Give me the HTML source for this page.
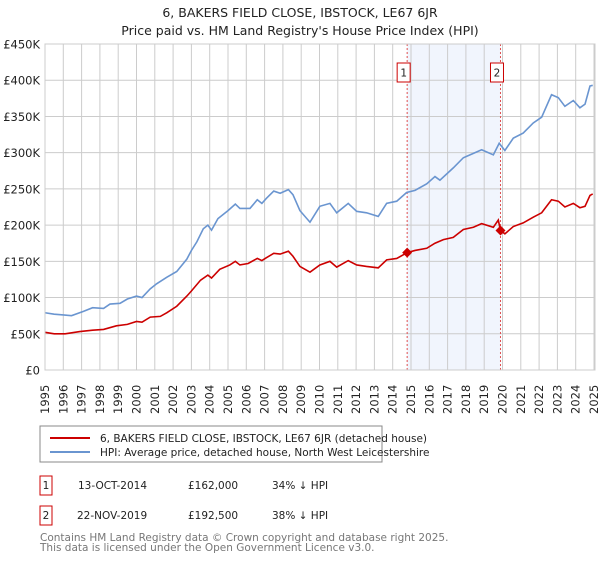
<!DOCTYPE html>
<html><head><meta charset="utf-8"><style>
body{margin:0;background:#fff;font-family:"DejaVu Sans","Liberation Sans",sans-serif;}
svg text{font-family:"DejaVu Sans","Liberation Sans",sans-serif;}
</style></head><body>
<svg id="c" width="600" height="560" xmlns="http://www.w3.org/2000/svg">
<text x="300" y="17" text-anchor="middle" font-size="12.5" fill="#222">6, BAKERS FIELD CLOSE, IBSTOCK, LE67 6JR</text>
<text x="300" y="35" text-anchor="middle" font-size="12.5" fill="#222">Price paid vs. HM Land Registry's House Price Index (HPI)</text>
<g id="grid"></g><g id="series"></g><g id="axes"></g>
<rect x="40" y="426" width="342" height="36" fill="#fff" stroke="#888"/>
<line x1="50" y1="438" x2="90" y2="438" stroke="#cc0000" stroke-width="2"/>
<text x="100" y="442" font-size="10.5" fill="#222">6, BAKERS FIELD CLOSE, IBSTOCK, LE67 6JR (detached house)</text>
<line x1="50" y1="452" x2="90" y2="452" stroke="#6a95d0" stroke-width="2"/>
<text x="100" y="456" font-size="10.5" fill="#222">HPI: Average price, detached house, North West Leicestershire</text>
<g font-size="10.5" fill="#222">
<rect x="40" y="476" width="12" height="19" fill="#fff" stroke="#cc0000"/>
<text x="46" y="489" text-anchor="middle">1</text>
<text x="78" y="489">13-OCT-2014</text>
<text x="188" y="489">£162,000</text>
<text x="272" y="489">34% ↓ HPI</text>
<rect x="40" y="506" width="12" height="19" fill="#fff" stroke="#cc0000"/>
<text x="46" y="519" text-anchor="middle">2</text>
<text x="77" y="519">22-NOV-2019</text>
<text x="188" y="519">£192,500</text>
<text x="272" y="519">38% ↓ HPI</text>
</g>
<text x="40" y="541" font-size="10.5" fill="#777">Contains HM Land Registry data © Crown copyright and database right 2025.</text>
<text x="40" y="551" font-size="10.5" fill="#777">This data is licensed under the Open Government Licence v3.0.</text>
</svg>
<script>
const yTicks=[0,50,100,150,200,250,300,350,400,450];
const yTickLabels=["£0","£50K","£100K","£150K","£200K","£250K","£300K","£350K","£400K","£450K"];
const xYears=[1995,1996,1997,1998,1999,2000,2001,2002,2003,2004,2005,2006,2007,2008,2009,2010,2011,2012,2013,2014,2015,2016,2017,2018,2019,2020,2021,2022,2023,2024,2025];
const hpiYears=[1995,1995.5,1996,1996.45,1997.1,1997.6,1998.2,1998.55,1999.1,1999.5,2000,2000.3,2000.75,2001.1,2001.65,2002.2,2002.75,2003,2003.3,2003.65,2003.9,2004.1,2004.45,2005,2005.4,2005.65,2006.2,2006.6,2006.85,2007.1,2007.5,2007.85,2008.3,2008.55,2008.93,2009.48,2010.02,2010.57,2010.94,2011.57,2012.03,2012.57,2013.21,2013.67,2014.22,2014.76,2015.22,2015.86,2016.31,2016.58,2017.31,2017.86,2018.41,2018.86,2019.5,2019.82,2020.13,2020.59,2021.13,2021.68,2022.14,2022.68,2023.05,2023.41,2023.87,2024.23,2024.51,2024.78,2024.93];
const hpiValues=[79,77,76,75,81,86,85,91,92,98,102,100,112,119,128,136,153,165,177,195,200,193,209,220,229,223,223,235,230,237,247,244,249,242,220,204,226,230,217,230,219,217,212,230,233,245,248,257,267,262,279,293,299,304,297,313,303,320,327,341,349,380,376,364,372,362,367,392,393];
const ppYears=[1995,1995.5,1996.1,1996.9,1997.6,1998.2,1998.9,1999.5,2000,2000.3,2000.75,2001.3,2001.65,2002.2,2002.75,2003,2003.5,2003.9,2004.1,2004.55,2005.1,2005.4,2005.65,2006.1,2006.6,2006.85,2007.1,2007.5,2007.85,2008.3,2008.55,2008.93,2009.48,2010.02,2010.57,2010.94,2011.57,2012.03,2012.57,2013.21,2013.67,2014.22,2014.79,2015.22,2015.86,2016.31,2016.77,2017.31,2017.86,2018.41,2018.86,2019.5,2019.77,2019.89,2020.13,2020.59,2021.13,2021.68,2022.14,2022.68,2023.05,2023.41,2023.87,2024.23,2024.51,2024.78,2024.93];
const ppValues=[52,50,50,53,55,56,61,63,67,66,73,74,79,88,102,109,124,131,127,139,145,150,145,147,154,151,155,161,160,164,157,143,135,145,150,142,151,145,143,141,152,154,162,165,168,175,180,183,194,197,202,197,207,192.5,188,198,203,211,217,235,233,225,230,224,226,241,243];
const saleYears=[2014.79,2019.89];
const saleValues=[162,192.5];
const saleLabels=["1","2"];
const NS="http://www.w3.org/2000/svg";
const X0=45,X1=594,Y0=370,Y1=44;
const xs=y=>X0+(y-1995)*(X1-X0)/30;
const ys=v=>Y0-v*(Y0-Y1)/450;
function mk(p,t,a){const e=document.createElementNS(NS,t);for(const k in a)e.setAttribute(k,a[k]);p.appendChild(e);return e;}
const g=document.getElementById('grid'),s=document.getElementById('series'),ax=document.getElementById('axes');
const band=mk(g,'rect',{x:xs(saleYears[0]),y:Y1,width:xs(saleYears[1])-xs(saleYears[0]),height:Y0-Y1,fill:'#eef3fc',opacity:0.8});


xYears.forEach(yr=>{const l=mk(g,'line',{x1:xs(yr),x2:xs(yr),y1:Y1,y2:Y0,stroke:'#cccccc','stroke-width':1});


const w=mk(ax,'g',{});
w.setAttribute('transform','translate('+(xs(yr)+4)+',414) rotate(-90)');
const t=mk(w,'text',{x:0,y:0,'font-size':11.5,fill:'#222'});t.textContent=yr;

});
yTicks.forEach((v,i)=>{const l=mk(g,'line',{x1:X0,x2:X1,y1:ys(v),y2:ys(v),stroke:'#cccccc','stroke-width':1});


const t=mk(ax,'text',{x:40,y:ys(v)+4.5,'text-anchor':'end','font-size':11.5,fill:'#222'});t.textContent=yTickLabels[i];

});
const fr=mk(ax,'rect',{x:X0,y:Y1,width:X1-X0+1,height:Y0-Y1,fill:'none',stroke:'#cccccc'});


saleYears.forEach((yr,i)=>{const l=mk(s,'line',{x1:xs(yr),x2:xs(yr),y1:Y1,y2:Y0,stroke:'#e05050','stroke-width':1,'stroke-dasharray':'2,2'});

});
const hp=mk(s,'polyline',{points:hpiYears.map((y,i)=>xs(y)+','+ys(hpiValues[i])).join(' '),fill:'none',stroke:'#6a95d0','stroke-width':1.6});


const pp=mk(s,'polyline',{points:ppYears.map((y,i)=>xs(y)+','+ys(ppValues[i])).join(' '),fill:'none',stroke:'#cc0000','stroke-width':1.6});


saleYears.forEach((yr,i)=>{const cx=xs(yr),cy=ys(saleValues[i]);
const d=mk(s,'polygon',{points:`${cx},${cy-5} ${cx+5},${cy} ${cx},${cy+5} ${cx-5},${cy}`,fill:'#cc0000'});


const b=mk(s,'rect',{x:cx-10,y:63,width:13,height:19,fill:'#fff',stroke:'#cc0000'});


const t=mk(s,'text',{x:cx-3.5,y:76.5,'text-anchor':'middle','font-size':10.5,fill:'#222'});t.textContent=saleLabels[i];

});
</script>
</body></html>
